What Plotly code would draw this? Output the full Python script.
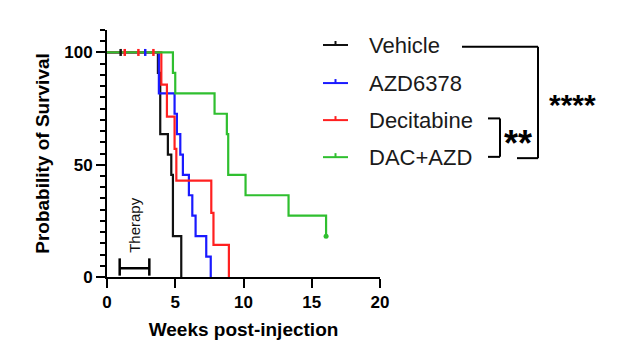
import plotly.graph_objects as go

# ---- data (weeks post-injection, % survival after each event) ----
vehicle_t = [0, 3.73, 3.90, 4.46, 4.71, 4.83, 5.44]
vehicle_s = [100, 90.9, 63.6, 54.5, 45.5, 18.2, 0]
azd_t = [0, 3.80, 4.95, 5.12, 5.37, 5.56, 6.00, 6.25, 6.49, 7.27, 7.60]
azd_s = [100, 81.8, 72.7, 63.6, 54.5, 45.5, 36.4, 27.3, 18.2, 9.1, 0]
dec_t = [0, 3.98, 4.39, 4.95, 5.08, 7.64, 7.80, 8.93]
dec_s = [100, 85.7, 71.4, 57.1, 42.9, 28.6, 14.3, 0]
dac_t = [0, 4.83, 5.00, 7.88, 8.78, 8.88, 10.15, 13.30, 16.05]
dac_s = [100, 90.9, 81.8, 72.7, 63.6, 45.5, 36.4, 27.3, 18.2]

# censored observations
cens_vehicle_t, cens_vehicle_s = [1.0], [100]
cens_azd_t, cens_azd_s = [2.8], [100]
cens_dec_t, cens_dec_s = [1.3, 2.3, 3.4], [100, 100, 100]
cens_dac_t, cens_dac_s = [16.05], [18.2]

names = ["Vehicle", "AZD6378", "Decitabine", "DAC+AZD"]
colors = ["#111111", "#1a1aff", "#ff2020", "#2fbf2f"]

therapy_start, therapy_end = 0.93, 3.1

x_ticks = [0, 5, 10, 15, 20]
y_ticks = [0, 50, 100]

# ---- figure geometry (pixels; page has an 8px body offset) ----
OFF = 8
W, H = 623, 349
L, T = 107 - OFF, 30 - OFF
PW, PH = 273, 246.7
R = W - L - PW
B = H - T - PH


def px(x):
    return (x - OFF - L) / PW


def py(y):
    return (T + PH - (y - OFF)) / PH


fig = go.Figure()
series = [(vehicle_t, vehicle_s), (azd_t, azd_s), (dec_t, dec_s), (dac_t, dac_s)]
cens = [(cens_vehicle_t, cens_vehicle_s), (cens_azd_t, cens_azd_s),
        (cens_dec_t, cens_dec_s), (cens_dac_t, cens_dac_s)]

for (t, s), n, c in zip(series, names, colors):
    fig.add_trace(go.Scatter(x=t, y=s, mode="lines", line=dict(color=c, width=2.2, shape="hv"),
                             name=n, showlegend=False, cliponaxis=False))
for (ct, cs), n, c in zip(cens[:3], names[:3], colors[:3]):
    fig.add_trace(go.Scatter(x=ct, y=cs, mode="markers", showlegend=False, cliponaxis=False,
                             marker=dict(symbol="line-ns", size=5, line=dict(color=c, width=2.5))))
fig.add_trace(go.Scatter(x=cens[3][0], y=cens[3][1], mode="markers", showlegend=False,
                         cliponaxis=False,
                         marker=dict(symbol="circle", size=5, color=colors[3])))

shapes = []
# therapy bar
shapes.append(dict(type="line", xref="x", yref="y", x0=therapy_start, x1=therapy_end, y0=3.9, y1=3.9,
                   line=dict(color="black", width=2.5)))
for xx in (therapy_start, therapy_end):
    shapes.append(dict(type="line", xref="x", yref="y", x0=xx, x1=xx, y0=0.6, y1=8.3,
                       line=dict(color="black", width=2.5)))

annotations = [dict(x=(therapy_start + therapy_end) / 2, y=23, xref="x", yref="y", text="Therapy",
                    textangle=-90, showarrow=False,
                    font=dict(family="Liberation Sans, Arial", size=15, color="#111"))]

# manual legend
rows = [45, 83, 120, 157]
for yy, n, c in zip(rows, names, colors):
    shapes.append(dict(type="line", xref="paper", yref="paper", x0=px(323), x1=px(348),
                       y0=py(yy), y1=py(yy), line=dict(color=c, width=2)))
    shapes.append(dict(type="line", xref="paper", yref="paper", x0=px(335.5), x1=px(335.5),
                       y0=py(yy), y1=py(yy - 4), line=dict(color=c, width=2)))
    annotations.append(dict(x=px(367), y=py(yy), xref="paper", yref="paper", text=n,
                            xanchor="left", yanchor="middle", showarrow=False,
                            font=dict(family="Liberation Sans, Arial", size=22, color="#1a1a1a")))

# significance brackets
br = dict(color="black", width=2)
for (x0, y0, x1, y1) in [(462, 46.7, 538, 46.7), (538, 46.7, 538, 158), (538, 158, 517, 158),
                         (488, 118.3, 500, 118.3), (500, 118.3, 500, 156.7), (500, 156.7, 488, 156.7)]:
    shapes.append(dict(type="line", xref="paper", yref="paper", x0=px(x0), x1=px(x1),
                       y0=py(y0), y1=py(y1), line=br))
annotations.append(dict(x=px(572), y=py(104), xref="paper", yref="paper", text="<b>****</b>",
                        showarrow=False, xanchor="center", yanchor="middle",
                        font=dict(family="Liberation Sans, Arial", size=30, color="black")))
annotations.append(dict(x=px(518), y=py(143), xref="paper", yref="paper", text="<b>**</b>",
                        showarrow=False, xanchor="center", yanchor="middle",
                        font=dict(family="Liberation Sans, Arial", size=36, color="black")))

axis_font = dict(family="Liberation Sans, Arial", size=17, color="black", weight="bold")
fig.update_layout(
    width=W, height=H, margin=dict(l=L, r=R, t=T, b=B),
    paper_bgcolor="white", plot_bgcolor="white", showlegend=False,
    shapes=shapes, annotations=annotations,
    xaxis=dict(range=[0, 20], tickvals=x_ticks, ticktext=[str(v) for v in x_ticks],
               showgrid=False, zeroline=False, showline=True, linecolor="black", linewidth=2,
               ticks="outside", ticklen=9, tickwidth=2, tickcolor="black",
               tickfont=axis_font,
               title=dict(text="<b>Weeks post-injection</b>", standoff=11,
                          font=dict(family="Liberation Sans, Arial", size=19, color="black"))),
    yaxis=dict(range=[0, 110], tickvals=y_ticks, ticktext=[str(v) for v in y_ticks],
               showgrid=False, zeroline=False, showline=True, linecolor="black", linewidth=2,
               ticks="outside", ticklen=9, tickwidth=2, tickcolor="black",
               tickfont=axis_font,
               minor=dict(dtick=5, tick0=0, ticks="outside", ticklen=5, tickwidth=2,
                          tickcolor="black", showgrid=False),
               title=dict(text="<b>Probability of Survival</b>", standoff=10,
                          font=dict(family="Liberation Sans, Arial", size=19, color="black"))),
)

fig.write_html("out.html")
